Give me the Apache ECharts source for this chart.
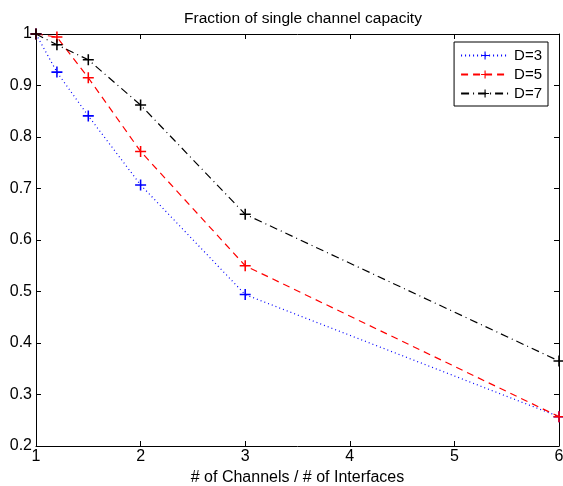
<!DOCTYPE html>
<html><head><meta charset="utf-8">
<script src="https://cdn.jsdelivr.net/npm/echarts@6/dist/echarts.min.js"></script>
<style>html,body{margin:0;padding:0;background:#fff}#c{width:563px;height:486px}</style>
</head><body><div id="c"></div>
<script>
const xValues = [1, 1.2, 1.5, 2, 3, 6];
const d3 = [1, 0.926, 0.841, 0.707, 0.494, 0.257];
const d5 = [1, 0.994, 0.915, 0.772, 0.550, 0.257];
const d7 = [1, 0.979, 0.950, 0.862, 0.650, 0.365];
const seriesNames = ['D=3', 'D=5', 'D=7'];
const titleText = 'Fraction of single channel capacity';
const xName = '# of Channels / # of Interfaces';

const plus = 'path://M0,4.3H10V5.7H0ZM4.3,0H5.7V10H4.3Z';
const font = 'Liberation Sans, Arial, sans-serif';
function mk(name, vals, color, dash) {
  return {
    name: name, type: 'line', data: xValues.map((x, i) => [x, vals[i]]),
    symbol: plus, symbolSize: 11, showSymbol: true,
    itemStyle: { color: color },
    lineStyle: { color: color, width: 1.2, type: dash },
    emphasis: { disabled: true }, animation: false
  };
}
const chart = echarts.init(document.getElementById('c'));
const axisCommon = {
  axisLine: { show: true, lineStyle: { color: '#000', width: 1 } },
  axisTick: { show: true, inside: true, length: 5, lineStyle: { color: '#000' } },
  splitLine: { show: false }
};
chart.setOption({
  animation: false,
  title: { text: titleText, left: 298, textAlign: 'center', top: 6,
    textStyle: { fontFamily: font, fontSize: 15.5, fontWeight: 'normal', color: '#000' } },
  grid: { left: 36, right: 4, top: 34, bottom: 40, containLabel: false, outerBoundsMode: 'none' },
  legend: {
    right: 15, top: 42, orient: 'vertical', itemWidth: 48, itemHeight: 10, itemGap: 4,
    borderColor: '#000', borderWidth: 1, backgroundColor: '#fff', padding: [6, 6, 5, 6],
    textStyle: { fontFamily: font, fontSize: 15, color: '#000' },
    data: seriesNames
  },
  xAxis: [
    Object.assign({ type: 'value', min: 1, max: 6, interval: 1, position: 'bottom',
      name: xName, nameLocation: 'middle', nameGap: 21,
      nameTextStyle: { fontFamily: font, fontSize: 16, color: '#000' },
      axisLabel: { fontFamily: font, fontSize: 16, color: '#000', margin: 3 } }, axisCommon),
    Object.assign({ type: 'value', min: 1, max: 6, interval: 1, position: 'top',
      axisLabel: { show: false } }, axisCommon)
  ],
  yAxis: [
    Object.assign({ type: 'value', min: 0.2, max: 1, interval: 0.1, position: 'left',
      axisLabel: { fontFamily: font, fontSize: 16, color: '#000', margin: 4 } }, axisCommon),
    Object.assign({ type: 'value', min: 0.2, max: 1, interval: 0.1, position: 'right',
      axisLabel: { show: false } }, axisCommon)
  ],
  series: [
    mk(seriesNames[0], d3, '#0000ff', [1, 3]),
    mk(seriesNames[1], d5, '#ff0000', [7, 5]),
    mk(seriesNames[2], d7, '#000000', [8, 4, 1, 4])
  ]
});
</script></body></html>
